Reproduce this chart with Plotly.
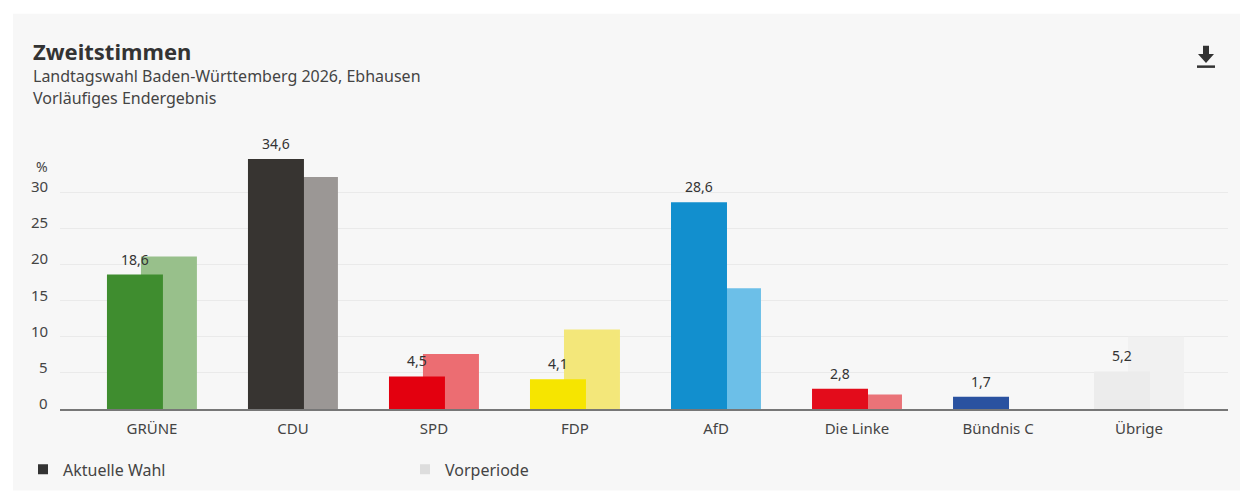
import plotly.graph_objects as go

categories = ["GRÜNE", "CDU", "SPD", "FDP", "AfD", "Die Linke", "Bündnis C", "Übrige"]
current = [18.6, 34.6, 4.5, 4.1, 28.6, 2.8, 1.7, 5.2]
previous = [21.1, 32.1, 7.6, 11.0, 16.7, 2.0, 0, 10.0]
current_colors = ["#3f8d2f", "#373431", "#e3000f", "#f6e500", "#128fce", "#e30c1b", "#2a52a0", "#ececec"]
previous_colors = ["#98c08b", "#9b9795", "#ec6d72", "#f3e77a", "#6cbfe8", "#ea7378", "#c8d2e8", "#f1f1f1"]
y_ticks = [0, 5, 10, 15, 20, 25, 30]

# the page body adds an 8px offset; positions below are given in screen pixels
OFF = 8
W_FIG, H_FIG = 1253, 494
L, T = 60 - OFF, 156 - OFF
R = W_FIG - (1228 - OFF)
B = H_FIG - (408.7 - OFF)
PW = W_FIG - L - R
PH = H_FIG - T - B

X_RANGE = [-0.652, 7.631]
BAR_W = 0.397
CUR_OFF = -0.319
PREV_OFF = -0.078
CAT_PX = PW / (X_RANGE[1] - X_RANGE[0])


def px(x):
    return (x - OFF - L) / PW


def py(y):
    return 1 - (y - OFF - T) / PH


FONT = "Noto Sans"
fig = go.Figure()

fig.add_trace(go.Bar(
    x=categories, y=previous, marker=dict(color=previous_colors, line=dict(width=0)),
    width=BAR_W, offset=PREV_OFF, showlegend=False, hoverinfo="skip", name="Vorperiode"))
fig.add_trace(go.Bar(
    x=categories, y=current, marker=dict(color=current_colors, line=dict(width=0)),
    width=BAR_W, offset=CUR_OFF, showlegend=False, name="Aktuelle Wahl"))

fig.add_trace(go.Scatter(x=[None], y=[None], mode="markers", name="Aktuelle Wahl",
                         marker=dict(symbol="square", size=10, color="#333333")))
fig.add_trace(go.Scatter(x=[None], y=[None], mode="markers", name="Vorperiode",
                         marker=dict(symbol="square", size=10, color="#dddddd")))

shapes = [
    dict(type="rect", xref="paper", yref="paper", x0=px(13), x1=px(1240), y0=py(490), y1=py(14),
         fillcolor="#f7f7f7", line=dict(width=0), layer="below"),
    dict(type="path", xref="paper", yref="paper",
         path=(f"M {px(1203)} {py(46)} L {px(1209)} {py(46)} L {px(1209)} {py(54)} L {px(1214)} {py(54)} "
               f"L {px(1206)} {py(63)} L {px(1198)} {py(54)} L {px(1203)} {py(54)} Z"),
         fillcolor="#333333", line=dict(width=0)),
    dict(type="rect", xref="paper", yref="paper", x0=px(1197), x1=px(1215), y0=py(68), y1=py(65.5),
         fillcolor="#333333", line=dict(width=0)),
]

annotations = [
    dict(text="<b>Zweitstimmen</b>", x=px(31), y=py(51), xref="paper", yref="paper",
         xanchor="left", yanchor="middle", showarrow=False, font=dict(family=FONT, size=22, color="#333333")),
    dict(text="Landtagswahl Baden-Württemberg 2026, Ebhausen", x=px(31), y=py(76), xref="paper", yref="paper",
         xanchor="left", yanchor="middle", showarrow=False, font=dict(family=FONT, size=16, color="#444444")),
    dict(text="Vorläufiges Endergebnis", x=px(31), y=py(98), xref="paper", yref="paper",
         xanchor="left", yanchor="middle", showarrow=False, font=dict(family=FONT, size=16, color="#444444")),
    dict(text="%", x=px(50), y=py(166), xref="paper", yref="paper",
         xanchor="right", yanchor="middle", showarrow=False, font=dict(family=FONT, size=14, color="#444444")),
]

# y tick labels, sitting slightly above their grid lines
for v in y_ticks:
    annotations.append(dict(text=str(v), x=px(50), y=v, xref="paper", yref="y",
                            xanchor="right", yanchor="middle", yshift=6, showarrow=False,
                            font=dict(family=FONT, size=15, color="#444444")))

# value labels above the current bars
cur_center_shift = (CUR_OFF + BAR_W / 2) * CAT_PX
for c, v in zip(categories, current):
    annotations.append(dict(text=f"{v:.1f}".replace(".", ","), x=c, y=v, xref="x", yref="y",
                            xanchor="center", yanchor="bottom", xshift=cur_center_shift, yshift=4,
                            showarrow=False, font=dict(family=FONT, size=14, color="#333333")))

fig.update_layout(
    width=W_FIG, height=H_FIG,
    margin=dict(l=L, r=R, t=T, b=B, pad=0),
    paper_bgcolor="#ffffff", plot_bgcolor="rgba(0,0,0,0)",
    barmode="overlay", separators=",.",
    font=dict(family=FONT, size=14, color="#444444"),
    shapes=shapes, annotations=annotations,
    showlegend=True,
    legend=dict(orientation="h", x=px(23), y=py(469), xanchor="left", yanchor="middle",
                entrywidth=337, entrywidthmode="pixels", bgcolor="rgba(0,0,0,0)",
                font=dict(family=FONT, size=16, color="#444444")),
    xaxis=dict(range=X_RANGE, showline=True, linecolor="#777777", linewidth=1.5,
               showgrid=False, ticks="", ticklabelstandoff=5,
               tickfont=dict(family=FONT, size=15, color="#444444"), fixedrange=True),
    yaxis=dict(range=[0, 35], tickvals=y_ticks, showgrid=True, gridcolor="#eaeaea", gridwidth=1,
               zeroline=False, showline=False, ticks="", showticklabels=False, fixedrange=True),
)

fig.write_html("out.html")
